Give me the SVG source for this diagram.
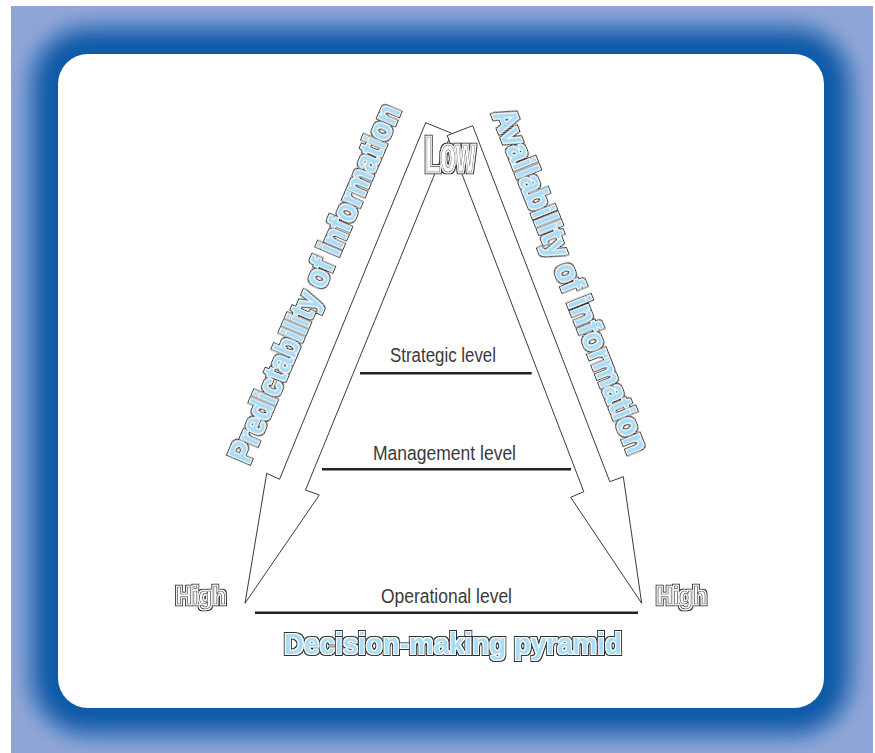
<svg xmlns="http://www.w3.org/2000/svg" width="875" height="753" viewBox="0 0 875 753">
<defs>
<clipPath id="frameClip"><rect x="11" y="6" width="862" height="747"/></clipPath>
<filter id="glow" x="-10%" y="-10%" width="120%" height="120%">
<feGaussianBlur stdDeviation="11"/>
</filter>
<filter id="dbl" x="-20%" y="-20%" width="140%" height="140%">
<feMorphology in="SourceAlpha" operator="dilate" radius="1.9" result="d2"/>
<feFlood flood-color="#2e2e2e" result="c2"/>
<feComposite in="c2" in2="d2" operator="in" result="outer"/>
<feMorphology in="SourceAlpha" operator="dilate" radius="1" result="d1"/>
<feFlood flood-color="#ffffff" result="c1"/>
<feComposite in="c1" in2="d1" operator="in" result="mid"/>
<feMerge><feMergeNode in="outer"/><feMergeNode in="mid"/><feMergeNode in="SourceGraphic"/></feMerge>
</filter>
</defs>
<style>
.arrow{fill:#ffffff;stroke:#3a3a3a;stroke-width:1;stroke-linejoin:miter}
.level{fill:none;stroke:#222222;stroke-width:2.6}
.lvl{font-family:"Liberation Sans",Arial,sans-serif;font-size:19.5px;fill:#3a3a3a}
.blue{font-family:"Liberation Sans",Arial,sans-serif;font-weight:bold;fill:#a9dcf6;filter:url(#dbl)}
.hollow{font-family:"Liberation Sans",Arial,sans-serif;font-weight:bold;fill:#ffffff;stroke:#2e2e2e;stroke-width:0.7;filter:url(#dbl)}
</style>
<rect width="875" height="753" fill="#ffffff"/>
<g id="frame">
<rect x="11" y="6" width="862" height="747" fill="#91a6d8"/>
<g clip-path="url(#frameClip)">
<rect x="32" y="28" width="818" height="706" rx="56" fill="#0a5aa8" filter="url(#glow)"/>
</g>
<rect x="58" y="54" width="766" height="654" rx="30" fill="#ffffff"/>
</g>
<g id="connectors">
<polygon id="arrow-predictability" class="arrow" points="425.7,122.7 451.4,133.2 305.5,490 319.3,495 245,603.3 266.7,473.3 279.5,479.3"/>
<polygon id="arrow-availability" class="arrow" points="472.7,125.7 447.2,135.5 583.8,491.7 570.7,497.3 641.7,603.3 623.3,476.7 609.8,481.7"/>
</g>
<g id="level-strategic">
<line class="level" x1="360" y1="373.3" x2="531.7" y2="373.3"/>
<text class="lvl" x="390" y="362.3" textLength="106" lengthAdjust="spacingAndGlyphs">Strategic level</text>
</g>
<g id="level-management">
<line class="level" x1="322" y1="469.3" x2="571" y2="469.3"/>
<text class="lvl" x="373" y="460" textLength="143" lengthAdjust="spacingAndGlyphs">Management level</text>
</g>
<g id="level-operational">
<line class="level" x1="255" y1="612.7" x2="638" y2="612.7"/>
<text class="lvl" x="381" y="603.3" textLength="131" lengthAdjust="spacingAndGlyphs">Operational level</text>
</g>
<g id="label-predictability">
<text class="blue" font-size="34" text-anchor="middle" transform="translate(324.9,287.8) rotate(-66.8)" textLength="386" lengthAdjust="spacingAndGlyphs">Predictability of information</text>
</g>
<g id="label-availability">
<text class="blue" font-size="34" text-anchor="middle" transform="translate(560.2,284.8) rotate(68.2)" textLength="368" lengthAdjust="spacingAndGlyphs">Availability of information</text>
</g>
<g id="label-low">
<text class="hollow" x="425.3" y="171.7" font-size="50" textLength="49.7" lengthAdjust="spacingAndGlyphs">Low</text>
</g>
<g id="label-high-left">
<text class="hollow" x="176" y="604" font-size="23.5" textLength="50" lengthAdjust="spacingAndGlyphs">High</text>
</g>
<g id="label-high-right">
<text class="hollow" x="656.5" y="604" font-size="23.5" textLength="50" lengthAdjust="spacingAndGlyphs">High</text>
</g>
<g id="title">
<text class="blue" x="284" y="654" font-size="29" textLength="338" lengthAdjust="spacingAndGlyphs">Decision-making pyramid</text>
</g>
</svg>
